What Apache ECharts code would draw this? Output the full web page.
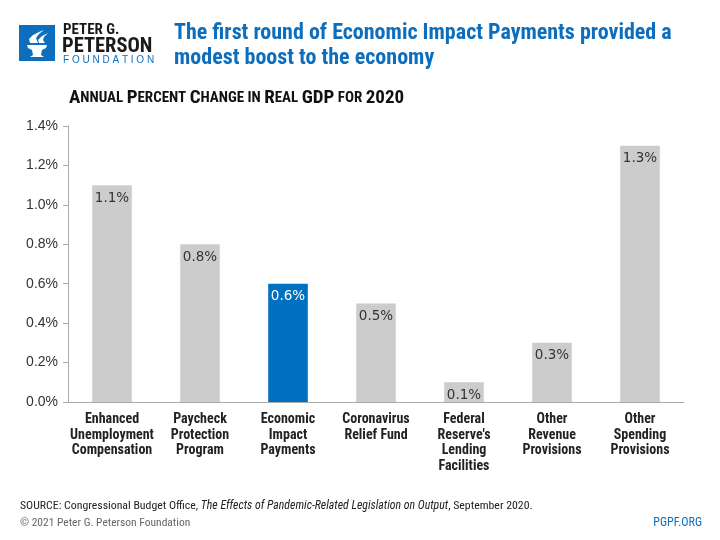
<!DOCTYPE html>
<html><head><meta charset="utf-8">
<script src="https://cdn.jsdelivr.net/npm/echarts@6/dist/echarts.min.js"></script>
<style>html,body{margin:0;padding:0;background:#fff}#c{width:720px;height:540px}</style>
</head><body><div id="c"></div>
<script>
const categories = ['Enhanced\nUnemployment\nCompensation','Paycheck\nProtection\nProgram','Economic\nImpact\nPayments','Coronavirus\nRelief Fund','Federal\nReserve\'s\nLending\nFacilities','Other\nRevenue\nProvisions','Other\nSpending\nProvisions'];
const values = [1.1, 0.8, 0.6, 0.5, 0.1, 0.3, 1.3];
const highlightIndex = 2;
const yTicks = [0, 0.2, 0.4, 0.6, 0.8, 1.0, 1.2, 1.4];

const condensed = '"Liberation Sans Narrow", "Roboto Condensed", "Liberation Sans", sans-serif';
const chart = echarts.init(document.getElementById('c'));
chart.setOption({
  animation: false,
  backgroundColor: '#fff',
  grid: {left: 68, right: 36, top: 126, bottom: 138},
  xAxis: {
    type: 'category', data: categories,
    axisLine: {lineStyle: {color: '#aaaaaa', width: 1}},
    axisTick: {show: false},
    axisLabel: {interval: 0, color: '#222', fontFamily: condensed, fontWeight: 'bold', fontSize: 14, lineHeight: 15.5, margin: 10}
  },
  yAxis: {
    type: 'value', min: yTicks[0], max: yTicks[yTicks.length-1], interval: 0.2,
    axisLine: {show: true, lineStyle: {color: '#aaaaaa'}},
    axisTick: {show: true, length: 5, lineStyle: {color: '#aaaaaa'}},
    splitLine: {show: false},
    axisLabel: {color: '#333', fontSize: 14, fontFamily: '"Liberation Sans", Arial, sans-serif', margin: 10,
      formatter: v => v.toFixed(1) + '%'}
  },
  series: [{
    type: 'bar', barWidth: '45%',
    data: values.map((v, i) => ({value: v, itemStyle: {color: i === highlightIndex ? '#0070c0' : '#cccccc'},
      label: {color: i === highlightIndex ? '#ffffff' : '#333333'}})),
    label: {show: true, position: 'insideTop', distance: 6, fontSize: 13.5, fontWeight: 500, fontFamily: '"DejaVu Sans", Verdana, sans-serif',
      formatter: p => p.value.toFixed(1) + '%'}
  }],
  graphic: [
    {type: 'rect', shape: {x: 19, y: 25, width: 36, height: 36}, style: {fill: '#0d6ebd'}},
    {type: 'polygon', shape: {points: [[27,45],[47,45],[46,48],[42,50],[41,55],[44,57],[30,57],[33,55],[32,50],[28,48]]}, style: {fill: '#fff'}},
    {type: 'polygon', shape: {points: [[30,43],[29,39],[33,35],[39,32],[44,30],[39,34],[36,38],[38,43]]}, style: {fill: '#fff'}},
    {type: 'polygon', shape: {points: [[39,43],[38,40],[42,36],[48,33],[44,37],[43,40],[45,43]]}, style: {fill: '#fff'}},
    {type: 'text', left: 63, top: 23, style: {text: 'PETER G.', font: 'bold 15px ' + condensed, fill: '#1a1a1a'}},
    {type: 'text', left: 62, top: 36, style: {text: 'PETERSON', font: 'bold 20.5px ' + condensed, fill: '#1a1a1a'}},
    {type: 'text', left: 63, top: 55, style: {text: 'F O U N D A T I O N', font: '10px "Liberation Sans", sans-serif', fill: '#0d6ebd'}},
    {type: 'text', left: 174, top: 21, style: {text: 'The first round of Economic Impact Payments provided a\nmodest boost to the economy',
      font: 'bold 22px ' + condensed, fill: '#0d6ebd', lineHeight: 25}},
    {type: 'text', left: 69, top: 89, style: {
      text: '{b|A}{s|NNUAL }{b|P}{s|ERCENT }{b|C}{s|HANGE IN }{b|R}{s|EAL }{b|GDP}{s| FOR }{b|2020}',
      rich: {
        b: {font: 'bold 19px ' + condensed, fill: '#111'},
        s: {font: 'bold 15px ' + condensed, fill: '#111'}
      }}},
    {type: 'text', left: 20, top: 500, style: {
      text: '{n|SOURCE: Congressional Budget Office, }{i|The Effects of Pandemic-Related Legislation on Output}{n|, September 2020.}',
      rich: {
        n: {font: '11.8px ' + condensed, fill: '#222'},
        i: {font: 'italic 11.8px ' + condensed, fill: '#222'}
      }}},
    {type: 'text', left: 20, top: 517, style: {text: '\u00a9 2021 Peter G. Peterson Foundation', font: '11.5px ' + condensed, fill: '#666'}},
    {type: 'text', right: 18, top: 517, style: {text: 'PGPF.ORG', font: '12px ' + condensed, fill: '#0d6ebd'}}
  ]
});
</script></body></html>
